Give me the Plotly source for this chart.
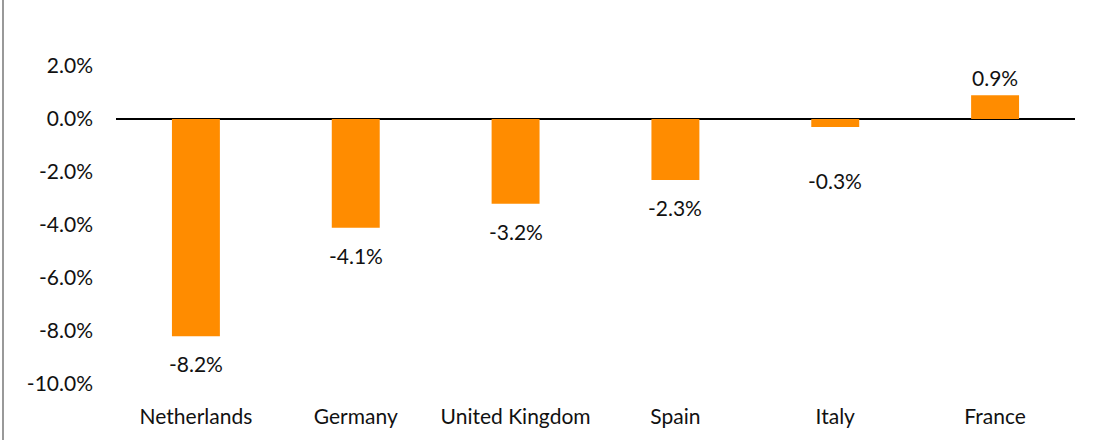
import plotly.graph_objects as go

countries = ["Netherlands", "Germany", "United Kingdom", "Spain", "Italy", "France"]
values = [-8.2, -4.1, -3.2, -2.3, -0.3, 0.9]
tick_vals = [2, 0, -2, -4, -6, -8, -10]
tick_text = ["2.0%", "0.0%", "-2.0%", "-4.0%", "-6.0%", "-8.0%", "-10.0%"]

FONT = "Lato"
TXT = "#111111"
FS = 21

fig = go.Figure(go.Bar(
    x=countries, y=values,
    marker=dict(color="#FF8C00", line=dict(width=0)),
    width=0.3,
    hoverinfo="skip",
))

annotations = []
for c, v in zip(countries, values):
    neg = v < 0
    annotations.append(dict(
        x=c, y=min(v, -1.3) if neg else v, xref="x", yref="y",
        text=f"{v:.1f}%", showarrow=False,
        yanchor="top" if neg else "bottom",
        yshift=-13 if neg else 3,
        font=dict(family=FONT, size=FS, color=TXT),
    ))

fig.update_layout(
    width=1112, height=440,
    margin=dict(l=116, r=37, t=66, b=56),
    paper_bgcolor="white", plot_bgcolor="white",
    showlegend=False,
    bargap=0.7,
    annotations=annotations,
    shapes=[dict(type="line", xref="paper", yref="paper",
                 x0=(3 - 116) / 959, x1=(3 - 116) / 959, y0=-56 / 318, y1=(318 + 66) / 318,
                 line=dict(color="#999999", width=2))],
    xaxis=dict(
        showgrid=False, showline=False, ticks="", automargin=False,
        tickfont=dict(family=FONT, size=FS, color=TXT),
        ticklabelstandoff=18,
    ),
    yaxis=dict(
        range=[-10, 2], showgrid=False, showline=False, ticks="", automargin=False,
        tickvals=tick_vals, ticktext=tick_text,
        tickfont=dict(family=FONT, size=FS, color=TXT),
        zeroline=True, zerolinecolor="#000000", zerolinewidth=2,
        ticklabelstandoff=22,
    ),
)

fig.write_html("out.html", config={"displayModeBar": False},
               post_script="document.body.style.margin='0';")
